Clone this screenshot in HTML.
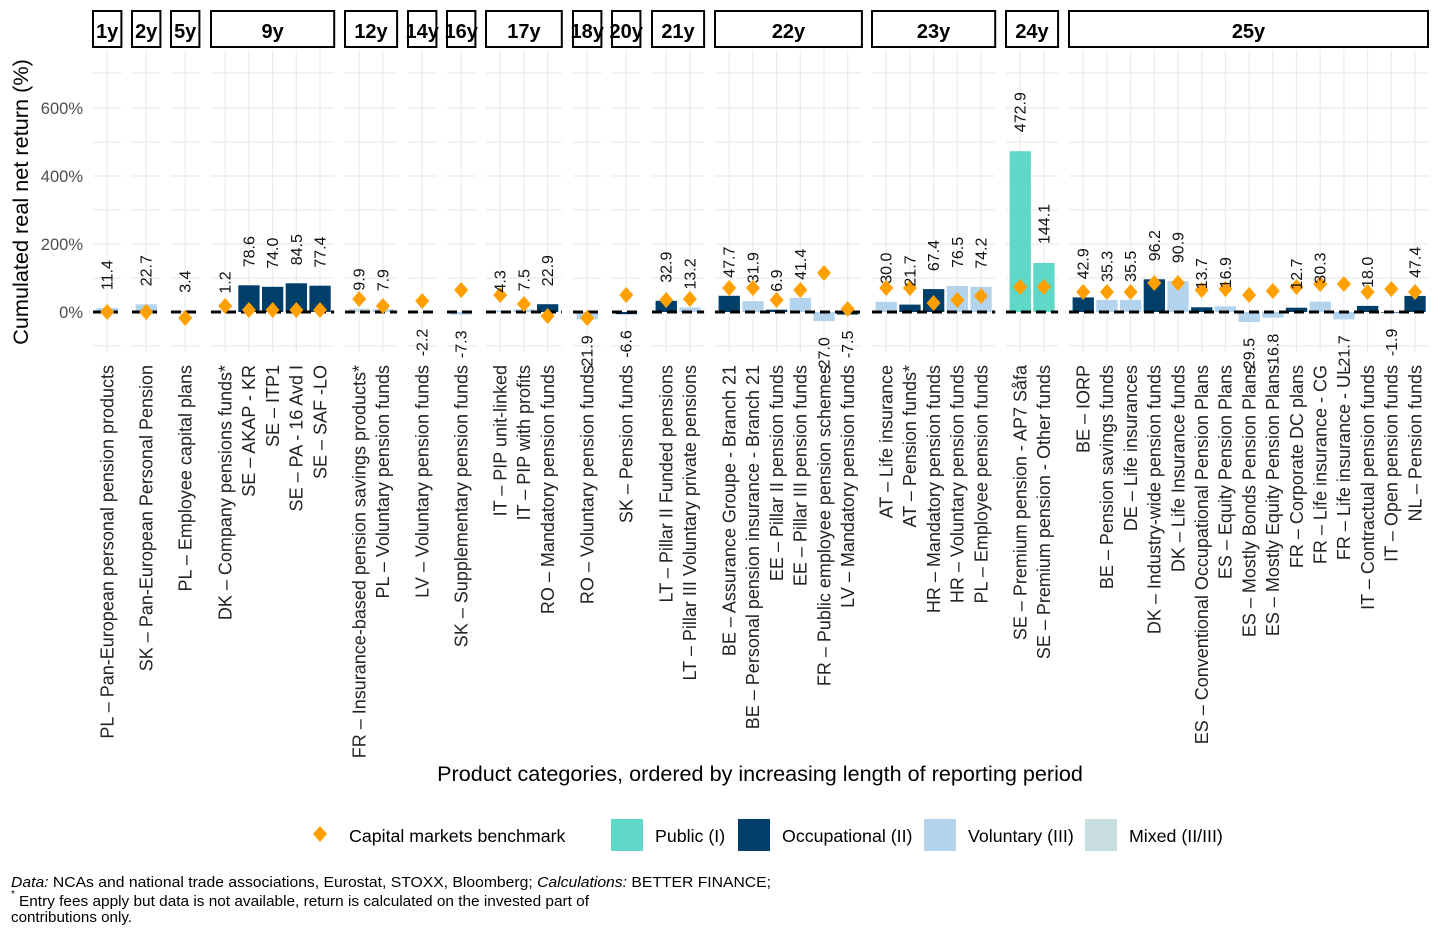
<!DOCTYPE html>
<html><head><meta charset="utf-8"><style>
body{margin:0;background:#fff}
svg{display:block;font-family:"Liberation Sans",Arial,sans-serif}
.o{fill:#003f69}.v{fill:#b3d4ec}.m{fill:#c8dde0}.p{fill:#60d8c8}
.g{stroke:#ebebeb;stroke-width:1.2;fill:none}
.z{stroke:#000;stroke-width:3;stroke-dasharray:10,5}
.vl{font-size:16px;fill:#111}
.xl{font-size:18px;fill:#222;text-anchor:end}
.st{fill:#fff;stroke:#000;stroke-width:2}
.stt{font-size:20px;font-weight:bold;text-anchor:middle}
.e{text-anchor:end}
</style></head><body>
<svg width="1440" height="936" viewBox="0 0 1440 936">
<defs><path id="d" d="M0,-8L7,0L0,8L-7,0Z" fill="#ffa000"/></defs>

<text transform="translate(28,202) rotate(-90)" font-size="21.7" text-anchor="middle" fill="#000">Cumulated real net return (%)</text>
<g font-size="16.5" fill="#4d4d4d" text-anchor="end">
<text x="83" y="114">600%</text><text x="83" y="182">400%</text><text x="83" y="250">200%</text><text x="83" y="318">0%</text>
</g>

<!-- 1y -->
<g transform="translate(93,0)">
<path class="g" d="M0,73H28.4M0,108H28.4M0,142H28.4M0,176H28.4M0,210H28.4M0,244H28.4M0,278H28.4M0,346H28.4M14.2,50V352"/>
<rect class="st" x="0" y="11" width="28.4" height="36"/><text class="stt" x="14.2" y="38">1y</text>
<rect class="v" x="3.6" y="308.1" width="21.3" height="3.9"/>
<line class="z" x1="0" y1="312" x2="28.4" y2="312"/>
<use href="#d" x="14.2" y="312"/>
<text class="vl" transform="translate(19.7,290.1) rotate(-90)">11.4</text>
<text class="xl" transform="translate(20.5,365) rotate(-90)">PL – Pan-European personal pension products</text>
</g>
<!-- 2y -->
<g transform="translate(132,0)">
<path class="g" d="M0,73H28.4M0,108H28.4M0,142H28.4M0,176H28.4M0,210H28.4M0,244H28.4M0,278H28.4M0,346H28.4M14.2,50V352"/>
<rect class="st" x="0" y="11" width="28.4" height="36"/><text class="stt" x="14.2" y="38">2y</text>
<rect class="v" x="3.6" y="304.3" width="21.3" height="7.7"/>
<line class="z" x1="0" y1="312" x2="28.4" y2="312"/>
<use href="#d" x="14.2" y="312"/>
<text class="vl" transform="translate(19.7,286.3) rotate(-90)">22.7</text>
<text class="xl" transform="translate(20.5,365) rotate(-90)">SK – Pan-European Personal Pension</text>
</g>
<!-- 5y -->
<g transform="translate(171,0)">
<path class="g" d="M0,73H28.4M0,108H28.4M0,142H28.4M0,176H28.4M0,210H28.4M0,244H28.4M0,278H28.4M0,346H28.4M14.2,50V352"/>
<rect class="st" x="0" y="11" width="28.4" height="36"/><text class="stt" x="14.2" y="38">5y</text>
<rect class="v" x="3.6" y="310.8" width="21.3" height="1.2"/>
<line class="z" x1="0" y1="312" x2="28.4" y2="312"/>
<use href="#d" x="14.2" y="318"/>
<text class="vl" transform="translate(19.7,292.8) rotate(-90)">3.4</text>
<text class="xl" transform="translate(20.5,365) rotate(-90)">PL – Employee capital plans</text>
</g>
<!-- 9y -->
<g transform="translate(211,0)">
<path class="g" d="M0,73H123.2M0,108H123.2M0,142H123.2M0,176H123.2M0,210H123.2M0,244H123.2M0,278H123.2M0,346H123.2M14.2,50V352M37.9,50V352M61.6,50V352M85.3,50V352M109,50V352"/>
<rect class="st" x="0" y="11" width="123.2" height="36"/><text class="stt" x="61.6" y="38">9y</text>
<rect class="v" x="3.6" y="311.6" width="21.3" height="0.4"/>
<rect class="o" x="27.3" y="285.3" width="21.3" height="26.7"/>
<rect class="o" x="51" y="286.8" width="21.3" height="25.2"/>
<rect class="o" x="74.7" y="283.3" width="21.3" height="28.7"/>
<rect class="o" x="98.4" y="285.7" width="21.3" height="26.3"/>
<line class="z" x1="0" y1="312" x2="123.2" y2="312"/>
<use href="#d" x="14.2" y="306"/><use href="#d" x="37.9" y="310"/><use href="#d" x="61.6" y="310"/><use href="#d" x="85.3" y="310"/><use href="#d" x="109" y="310"/>
<text class="vl" transform="translate(19.7,293.6) rotate(-90)">1.2</text>
<text class="vl" transform="translate(43.4,267.3) rotate(-90)">78.6</text>
<text class="vl" transform="translate(67.1,268.8) rotate(-90)">74.0</text>
<text class="vl" transform="translate(90.8,265.3) rotate(-90)">84.5</text>
<text class="vl" transform="translate(114.5,267.7) rotate(-90)">77.4</text>
<text class="xl" transform="translate(20.5,365) rotate(-90)">DK – Company pensions funds*</text>
<text class="xl" transform="translate(44.2,365) rotate(-90)">SE – AKAP - KR</text>
<text class="xl" transform="translate(67.9,365) rotate(-90)">SE – ITP1</text>
<text class="xl" transform="translate(91.6,365) rotate(-90)">SE – PA - 16 Avd I</text>
<text class="xl" transform="translate(115.3,365) rotate(-90)">SE – SAF -LO</text>
</g>
<!-- 12y -->
<g transform="translate(345,0)">
<path class="g" d="M0,73H52.1M0,108H52.1M0,142H52.1M0,176H52.1M0,210H52.1M0,244H52.1M0,278H52.1M0,346H52.1M14.2,50V352M37.9,50V352"/>
<rect class="st" x="0" y="11" width="52.1" height="36"/><text class="stt" x="26" y="38">12y</text>
<rect class="m" x="3.6" y="308.6" width="21.3" height="3.4"/>
<rect class="v" x="27.3" y="309.3" width="21.3" height="2.7"/>
<line class="z" x1="0" y1="312" x2="52.1" y2="312"/>
<use href="#d" x="14.2" y="299"/><use href="#d" x="37.9" y="306"/>
<text class="vl" transform="translate(19.7,290.6) rotate(-90)">9.9</text>
<text class="vl" transform="translate(43.4,291.3) rotate(-90)">7.9</text>
<text class="xl" transform="translate(20.5,365) rotate(-90)">FR – Insurance-based pension savings products*</text>
<text class="xl" transform="translate(44.2,365) rotate(-90)">PL – Voluntary pension funds</text>
</g>
<!-- 14y -->
<g transform="translate(408,0)">
<path class="g" d="M0,73H28.4M0,108H28.4M0,142H28.4M0,176H28.4M0,210H28.4M0,244H28.4M0,278H28.4M0,346H28.4M14.2,50V352"/>
<rect class="st" x="0" y="11" width="28.4" height="36"/><text class="stt" x="14.2" y="38">14y</text>
<rect class="v" x="3.6" y="312" width="21.3" height="0.7"/>
<line class="z" x1="0" y1="312" x2="28.4" y2="312"/>
<use href="#d" x="14.2" y="301"/>
<text class="vl e" transform="translate(19.7,328.7) rotate(-90)">-2.2</text>
<text class="xl" transform="translate(20.5,365) rotate(-90)">LV – Voluntary pension funds</text>
</g>
<!-- 16y -->
<g transform="translate(447,0)">
<path class="g" d="M0,73H28.4M0,108H28.4M0,142H28.4M0,176H28.4M0,210H28.4M0,244H28.4M0,278H28.4M0,346H28.4M14.2,50V352"/>
<rect class="st" x="0" y="11" width="28.4" height="36"/><text class="stt" x="14.2" y="38">16y</text>
<rect class="v" x="3.6" y="312" width="21.3" height="2.5"/>
<line class="z" x1="0" y1="312" x2="28.4" y2="312"/>
<use href="#d" x="14.2" y="290"/>
<text class="vl e" transform="translate(19.7,330.5) rotate(-90)">-7.3</text>
<text class="xl" transform="translate(20.5,365) rotate(-90)">SK – Supplementary pension funds</text>
</g>
<!-- 17y -->
<g transform="translate(486,0)">
<path class="g" d="M0,73H75.8M0,108H75.8M0,142H75.8M0,176H75.8M0,210H75.8M0,244H75.8M0,278H75.8M0,346H75.8M14.2,50V352M37.9,50V352M61.6,50V352"/>
<rect class="st" x="0" y="11" width="75.8" height="36"/><text class="stt" x="37.9" y="38">17y</text>
<rect class="v" x="3.6" y="310.5" width="21.3" height="1.5"/>
<rect class="v" x="27.3" y="309.4" width="21.3" height="2.6"/>
<rect class="o" x="51" y="304.2" width="21.3" height="7.8"/>
<line class="z" x1="0" y1="312" x2="75.8" y2="312"/>
<use href="#d" x="14.2" y="295"/><use href="#d" x="37.9" y="304"/><use href="#d" x="61.6" y="316"/>
<text class="vl" transform="translate(19.7,292.5) rotate(-90)">4.3</text>
<text class="vl" transform="translate(43.4,291.4) rotate(-90)">7.5</text>
<text class="vl" transform="translate(67.1,286.2) rotate(-90)">22.9</text>
<text class="xl" transform="translate(20.5,365) rotate(-90)">IT – PIP unit-linked</text>
<text class="xl" transform="translate(44.2,365) rotate(-90)">IT – PIP with profits</text>
<text class="xl" transform="translate(67.9,365) rotate(-90)">RO – Mandatory pension funds</text>
</g>
<!-- 18y -->
<g transform="translate(573,0)">
<path class="g" d="M0,73H28.4M0,108H28.4M0,142H28.4M0,176H28.4M0,210H28.4M0,244H28.4M0,278H28.4M0,346H28.4M14.2,50V352"/>
<rect class="st" x="0" y="11" width="28.4" height="36"/><text class="stt" x="14.2" y="38">18y</text>
<rect class="v" x="3.6" y="312" width="21.3" height="7.4"/>
<line class="z" x1="0" y1="312" x2="28.4" y2="312"/>
<use href="#d" x="14.2" y="318"/>
<text class="vl e" transform="translate(19.7,335.4) rotate(-90)">-21.9</text>
<text class="xl" transform="translate(20.5,365) rotate(-90)">RO – Voluntary pension funds</text>
</g>
<!-- 20y -->
<g transform="translate(612,0)">
<path class="g" d="M0,73H28.4M0,108H28.4M0,142H28.4M0,176H28.4M0,210H28.4M0,244H28.4M0,278H28.4M0,346H28.4M14.2,50V352"/>
<rect class="st" x="0" y="11" width="28.4" height="36"/><text class="stt" x="14.2" y="38">20y</text>
<rect class="o" x="3.6" y="312" width="21.3" height="2.2"/>
<line class="z" x1="0" y1="312" x2="28.4" y2="312"/>
<use href="#d" x="14.2" y="295"/>
<text class="vl e" transform="translate(19.7,330.2) rotate(-90)">-6.6</text>
<text class="xl" transform="translate(20.5,365) rotate(-90)">SK – Pension funds</text>
</g>
<!-- 21y -->
<g transform="translate(652,0)">
<path class="g" d="M0,73H52.1M0,108H52.1M0,142H52.1M0,176H52.1M0,210H52.1M0,244H52.1M0,278H52.1M0,346H52.1M14.2,50V352M37.9,50V352"/>
<rect class="st" x="0" y="11" width="52.1" height="36"/><text class="stt" x="26" y="38">21y</text>
<rect class="o" x="3.6" y="300.8" width="21.3" height="11.2"/>
<rect class="v" x="27.3" y="307.5" width="21.3" height="4.5"/>
<line class="z" x1="0" y1="312" x2="52.1" y2="312"/>
<use href="#d" x="14.2" y="300"/><use href="#d" x="37.9" y="299"/>
<text class="vl" transform="translate(19.7,282.8) rotate(-90)">32.9</text>
<text class="vl" transform="translate(43.4,289.5) rotate(-90)">13.2</text>
<text class="xl" transform="translate(20.5,365) rotate(-90)">LT – Pillar II Funded pensions</text>
<text class="xl" transform="translate(44.2,365) rotate(-90)">LT – Pillar III Voluntary private pensions</text>
</g>
<!-- 22y -->
<g transform="translate(715,0)">
<path class="g" d="M0,73H146.9M0,108H146.9M0,142H146.9M0,176H146.9M0,210H146.9M0,244H146.9M0,278H146.9M0,346H146.9M14.2,50V352M37.9,50V352M61.6,50V352M85.3,50V352M109,50V352M132.7,50V352"/>
<rect class="st" x="0" y="11" width="146.9" height="36"/><text class="stt" x="73.5" y="38">22y</text>
<rect class="o" x="3.6" y="295.8" width="21.3" height="16.2"/>
<rect class="v" x="27.3" y="301.2" width="21.3" height="10.8"/>
<rect class="o" x="51" y="309.7" width="21.3" height="2.3"/>
<rect class="v" x="74.7" y="297.9" width="21.3" height="14.1"/>
<rect class="v" x="98.4" y="312" width="21.3" height="9.2"/>
<rect class="o" x="122.1" y="312" width="21.3" height="2.6"/>
<line class="z" x1="0" y1="312" x2="146.9" y2="312"/>
<use href="#d" x="14.2" y="288"/><use href="#d" x="37.9" y="288"/><use href="#d" x="61.6" y="300"/><use href="#d" x="85.3" y="290"/><use href="#d" x="109" y="273"/><use href="#d" x="132.7" y="309"/>
<text class="vl" transform="translate(19.7,277.8) rotate(-90)">47.7</text>
<text class="vl" transform="translate(43.4,283.2) rotate(-90)">31.9</text>
<text class="vl" transform="translate(67.1,291.7) rotate(-90)">6.9</text>
<text class="vl" transform="translate(90.8,279.9) rotate(-90)">41.4</text>
<text class="vl e" transform="translate(114.5,337.2) rotate(-90)">-27.0</text>
<text class="vl e" transform="translate(138.2,330.6) rotate(-90)">-7.5</text>
<text class="xl" transform="translate(20.5,365) rotate(-90)">BE – Assurance Groupe - Branch 21</text>
<text class="xl" transform="translate(44.2,365) rotate(-90)">BE – Personal pension insurance - Branch 21</text>
<text class="xl" transform="translate(67.9,365) rotate(-90)">EE – Pillar II pension funds</text>
<text class="xl" transform="translate(91.6,365) rotate(-90)">EE – Pillar III pension funds</text>
<text class="xl" transform="translate(115.3,365) rotate(-90)">FR – Public employee pension schemes</text>
<text class="xl" transform="translate(139,365) rotate(-90)">LV – Mandatory pension funds</text>
</g>
<!-- 23y -->
<g transform="translate(872,0)">
<path class="g" d="M0,73H123.2M0,108H123.2M0,142H123.2M0,176H123.2M0,210H123.2M0,244H123.2M0,278H123.2M0,346H123.2M14.2,50V352M37.9,50V352M61.6,50V352M85.3,50V352M109,50V352"/>
<rect class="st" x="0" y="11" width="123.2" height="36"/><text class="stt" x="61.6" y="38">23y</text>
<rect class="v" x="3.6" y="301.8" width="21.3" height="10.2"/>
<rect class="o" x="27.3" y="304.6" width="21.3" height="7.4"/>
<rect class="o" x="51" y="289.1" width="21.3" height="22.9"/>
<rect class="v" x="74.7" y="286" width="21.3" height="26"/>
<rect class="v" x="98.4" y="286.8" width="21.3" height="25.2"/>
<line class="z" x1="0" y1="312" x2="123.2" y2="312"/>
<use href="#d" x="14.2" y="288"/><use href="#d" x="37.9" y="288"/><use href="#d" x="61.6" y="303"/><use href="#d" x="85.3" y="300"/><use href="#d" x="109" y="296"/>
<text class="vl" transform="translate(19.7,283.8) rotate(-90)">30.0</text>
<text class="vl" transform="translate(43.4,286.6) rotate(-90)">21.7</text>
<text class="vl" transform="translate(67.1,271.1) rotate(-90)">67.4</text>
<text class="vl" transform="translate(90.8,268) rotate(-90)">76.5</text>
<text class="vl" transform="translate(114.5,268.8) rotate(-90)">74.2</text>
<text class="xl" transform="translate(20.5,365) rotate(-90)">AT – Life insurance</text>
<text class="xl" transform="translate(44.2,365) rotate(-90)">AT – Pension funds*</text>
<text class="xl" transform="translate(67.9,365) rotate(-90)">HR – Mandatory pension funds</text>
<text class="xl" transform="translate(91.6,365) rotate(-90)">HR – Voluntary pension funds</text>
<text class="xl" transform="translate(115.3,365) rotate(-90)">PL – Employee pension funds</text>
</g>
<!-- 24y -->
<g transform="translate(1006,0)">
<path class="g" d="M0,73H52.1M0,108H52.1M0,142H52.1M0,176H52.1M0,210H52.1M0,244H52.1M0,278H52.1M0,346H52.1M14.2,50V352M37.9,50V352"/>
<rect class="st" x="0" y="11" width="52.1" height="36"/><text class="stt" x="26" y="38">24y</text>
<rect class="p" x="3.6" y="151.2" width="21.3" height="160.8"/>
<rect class="p" x="27.3" y="263" width="21.3" height="49"/>
<line class="z" x1="0" y1="312" x2="52.1" y2="312"/>
<use href="#d" x="14.2" y="287"/><use href="#d" x="37.9" y="287"/>
<text class="vl" transform="translate(19.7,132.2) rotate(-90)">472.9</text>
<text class="vl" transform="translate(43.4,244) rotate(-90)">144.1</text>
<text class="xl" transform="translate(20.5,365) rotate(-90)">SE – Premium pension - AP7 Såfa</text>
<text class="xl" transform="translate(44.2,365) rotate(-90)">SE – Premium pension - Other funds</text>
</g>
<!-- 25y -->
<g transform="translate(1069,0)">
<path class="g" d="M0,73H360M0,108H360M0,142H360M0,176H360M0,210H360M0,244H360M0,278H360M0,346H360M14.2,50V352M37.9,50V352M61.6,50V352M85.3,50V352M109,50V352M132.7,50V352M156.4,50V352M180.1,50V352M203.8,50V352M227.5,50V352M251.2,50V352M274.9,50V352M298.6,50V352M322.3,50V352M346,50V352"/>
<rect class="st" x="0" y="11" width="359" height="36"/><text class="stt" x="179.5" y="38">25y</text>
<rect class="o" x="3.6" y="297.4" width="21.3" height="14.6"/>
<rect class="v" x="27.3" y="300" width="21.3" height="12"/>
<rect class="v" x="51" y="299.9" width="21.3" height="12.1"/>
<rect class="o" x="74.7" y="279.3" width="21.3" height="32.7"/>
<rect class="v" x="98.4" y="281.1" width="21.3" height="30.9"/>
<rect class="o" x="122.1" y="307.3" width="21.3" height="4.7"/>
<rect class="v" x="145.8" y="306.3" width="21.3" height="5.7"/>
<rect class="v" x="169.5" y="312" width="21.3" height="10"/>
<rect class="v" x="193.2" y="312" width="21.3" height="5.7"/>
<rect class="o" x="216.9" y="307.7" width="21.3" height="4.3"/>
<rect class="v" x="240.6" y="301.7" width="21.3" height="10.3"/>
<rect class="v" x="264.3" y="312" width="21.3" height="7.4"/>
<rect class="o" x="288" y="305.9" width="21.3" height="6.1"/>
<rect class="o" x="311.7" y="312" width="21.3" height="0.6"/>
<rect class="o" x="335.4" y="295.9" width="21.3" height="16.1"/>
<line class="z" x1="0" y1="312" x2="360" y2="312"/>
<use href="#d" x="14.2" y="292"/><use href="#d" x="37.9" y="292"/><use href="#d" x="61.6" y="292"/><use href="#d" x="85.3" y="283"/><use href="#d" x="109" y="283"/><use href="#d" x="132.7" y="290"/><use href="#d" x="156.4" y="289"/><use href="#d" x="180.1" y="295"/><use href="#d" x="203.8" y="291"/><use href="#d" x="227.5" y="287"/><use href="#d" x="251.2" y="284"/><use href="#d" x="274.9" y="284"/><use href="#d" x="298.6" y="292"/><use href="#d" x="322.3" y="289"/><use href="#d" x="346" y="292"/>
<text class="vl" transform="translate(19.7,279.4) rotate(-90)">42.9</text>
<text class="vl" transform="translate(43.4,282) rotate(-90)">35.3</text>
<text class="vl" transform="translate(67.1,281.9) rotate(-90)">35.5</text>
<text class="vl" transform="translate(90.8,261.3) rotate(-90)">96.2</text>
<text class="vl" transform="translate(114.5,263.1) rotate(-90)">90.9</text>
<text class="vl" transform="translate(138.2,289.3) rotate(-90)">13.7</text>
<text class="vl" transform="translate(161.9,288.3) rotate(-90)">16.9</text>
<text class="vl e" transform="translate(185.6,338) rotate(-90)">-29.5</text>
<text class="vl e" transform="translate(209.3,333.7) rotate(-90)">-16.8</text>
<text class="vl" transform="translate(233,289.7) rotate(-90)">12.7</text>
<text class="vl" transform="translate(256.7,283.7) rotate(-90)">30.3</text>
<text class="vl e" transform="translate(280.4,335.4) rotate(-90)">-21.7</text>
<text class="vl" transform="translate(304.1,287.9) rotate(-90)">18.0</text>
<text class="vl e" transform="translate(327.8,328.6) rotate(-90)">-1.9</text>
<text class="vl" transform="translate(351.5,277.9) rotate(-90)">47.4</text>
<text class="xl" transform="translate(20.5,365) rotate(-90)">BE – IORP</text>
<text class="xl" transform="translate(44.2,365) rotate(-90)">BE – Pension savings funds</text>
<text class="xl" transform="translate(67.9,365) rotate(-90)">DE – Life insurances</text>
<text class="xl" transform="translate(91.6,365) rotate(-90)">DK – Industry-wide pension funds</text>
<text class="xl" transform="translate(115.3,365) rotate(-90)">DK – Life Insurance funds</text>
<text class="xl" transform="translate(139,365) rotate(-90)">ES – Conventional Occupational Pension Plans</text>
<text class="xl" transform="translate(162.7,365) rotate(-90)">ES – Equity Pension Plans</text>
<text class="xl" transform="translate(186.4,365) rotate(-90)">ES – Mostly Bonds Pension Plans</text>
<text class="xl" transform="translate(210.1,365) rotate(-90)">ES – Mostly Equity Pension Plans</text>
<text class="xl" transform="translate(233.8,365) rotate(-90)">FR – Corporate DC plans</text>
<text class="xl" transform="translate(257.5,365) rotate(-90)">FR – Life insurance - CG</text>
<text class="xl" transform="translate(281.2,365) rotate(-90)">FR – Life insurance - UL</text>
<text class="xl" transform="translate(304.9,365) rotate(-90)">IT – Contractual pension funds</text>
<text class="xl" transform="translate(328.6,365) rotate(-90)">IT – Open pension funds</text>
<text class="xl" transform="translate(352.3,365) rotate(-90)">NL – Pension funds</text>
</g>

<text x="760" y="781" font-size="21.6" text-anchor="middle" fill="#000">Product categories, ordered by increasing length of reporting period</text>

<!-- legend -->
<use href="#d" x="320" y="834"/>
<g font-size="17.8" fill="#000">
<text x="349" y="842">Capital markets benchmark</text>
<rect class="p" x="611" y="819" width="32" height="32"/><text x="655" y="842">Public (I)</text>
<rect class="o" x="738" y="819" width="32" height="32"/><text x="782" y="842">Occupational (II)</text>
<rect class="v" x="924" y="819" width="32" height="32"/><text x="968" y="842">Voluntary (III)</text>
<rect class="m" x="1085" y="819" width="32" height="32"/><text x="1129" y="842">Mixed (II/III)</text>
</g>

<!-- footer -->
<g font-size="15" fill="#000" font-family="'Liberation Sans Narrow','Liberation Sans',sans-serif">
<text x="11" y="887" textLength="760" lengthAdjust="spacingAndGlyphs"><tspan font-style="italic">Data:</tspan> NCAs and national trade associations, Eurostat, STOXX, Bloomberg; <tspan font-style="italic">Calculations:</tspan> BETTER FINANCE;</text>
<text x="11" y="897" font-size="10">*</text>
<text x="19" y="906" textLength="570" lengthAdjust="spacingAndGlyphs">Entry fees apply but data is not available, return is calculated on the invested part of</text>
<text x="11" y="922" textLength="121" lengthAdjust="spacingAndGlyphs">contributions only.</text>
</g>
</svg>
</body></html>
